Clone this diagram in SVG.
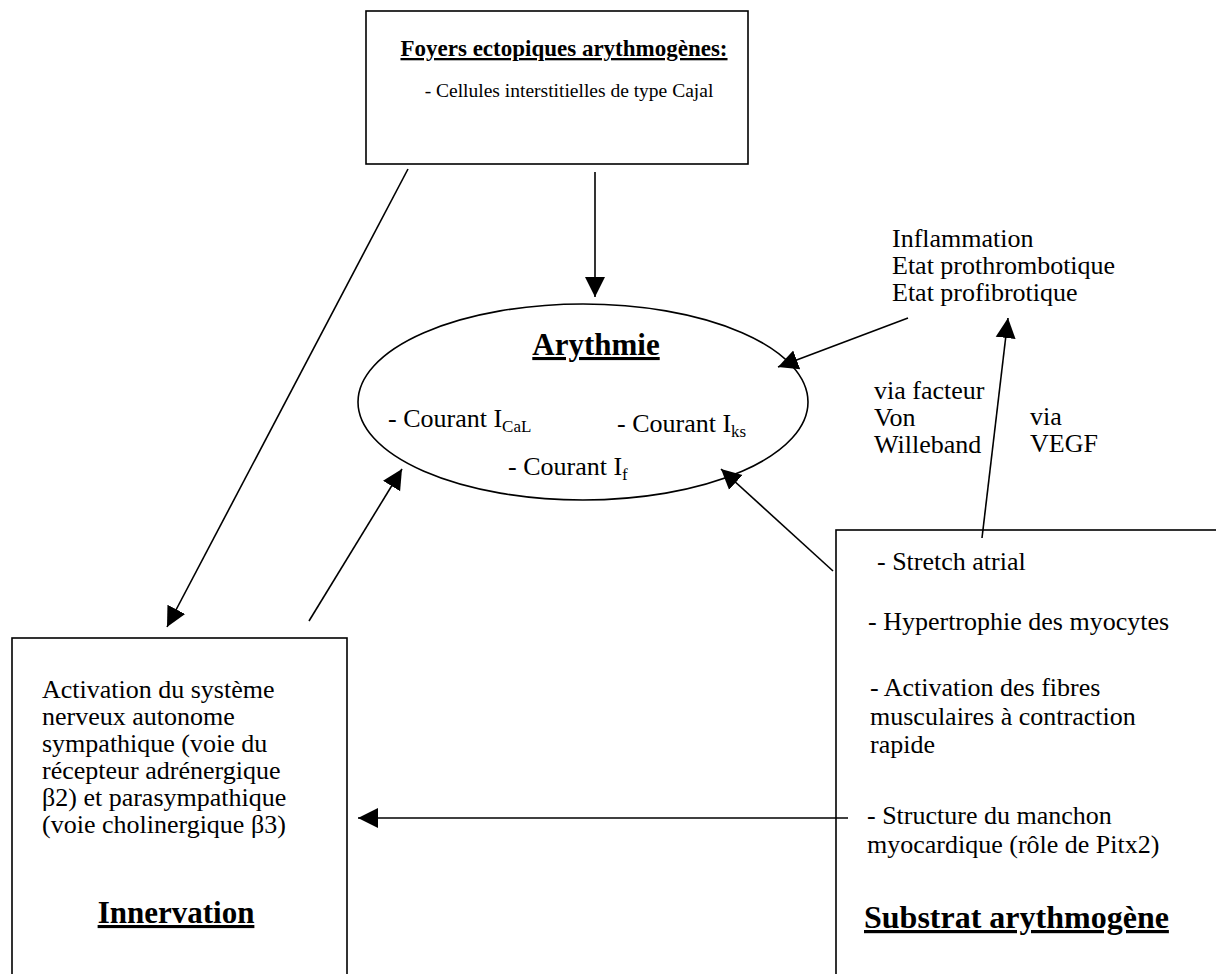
<svg xmlns="http://www.w3.org/2000/svg" width="1216" height="974" viewBox="0 0 1216 974">
<style>
.box{fill:#fff;stroke:#000;stroke-width:1.6}
.ell{fill:#fff;stroke:#000;stroke-width:1.6}
.t{font-family:"Liberation Serif","Times New Roman",serif;font-size:26px;fill:#000}
.h{font-family:"Liberation Serif","Times New Roman",serif;font-size:31px;font-weight:bold;fill:#000;text-decoration:underline}
.sub{font-size:17px}
.con line{stroke:#000;stroke-width:1.6;marker-end:url(#ah)}
</style>
<defs>
<marker id="ah" markerUnits="userSpaceOnUse" markerWidth="22" markerHeight="22" refX="20" refY="10" orient="auto" viewBox="0 0 22 20">
<path d="M0,0 L20,10 L0,20 z" fill="#000"/>
</marker>
</defs>
<rect width="1216" height="974" fill="#fff"/>
<g id="foyers">
<rect class="box" x="366" y="11" width="382" height="153"/>
<text class="h" x="564" y="56" text-anchor="middle" style="font-size:23px">Foyers ectopiques arythmogènes:</text>
<text class="t" x="569" y="97" text-anchor="middle" style="font-size:19.5px">- Cellules interstitielles de type Cajal</text>
</g>
<g id="arythmie">
<ellipse class="ell" cx="583" cy="402" rx="225" ry="98"/>
<text class="h" x="596" y="355" text-anchor="middle">Arythmie</text>
<text class="t" x="388" y="427">- Courant I<tspan class="sub" dy="5">CaL</tspan></text>
<text class="t" x="617" y="432">- Courant I<tspan class="sub" dy="5">ks</tspan></text>
<text class="t" x="508" y="475">- Courant I<tspan class="sub" dy="5">f</tspan></text>
</g>
<g id="facteurs">
<text class="t" x="892" y="247">Inflammation</text>
<text class="t" x="892" y="274">Etat prothrombotique</text>
<text class="t" x="892" y="301">Etat profibrotique</text>
</g>
<g id="innervation">
<rect class="box" x="12" y="638" width="335" height="350"/>
<text class="t" x="42" y="698">Activation du système</text>
<text class="t" x="42" y="725">nerveux autonome</text>
<text class="t" x="42" y="752">sympathique (voie du</text>
<text class="t" x="42" y="779">récepteur adrénergique</text>
<text class="t" x="42" y="806">β2) et parasympathique</text>
<text class="t" x="42" y="833">(voie cholinergique β3)</text>
<text class="h" x="176" y="923" text-anchor="middle">Innervation</text>
</g>
<g id="substrat">
<rect class="box" x="836" y="530" width="400" height="460"/>
<text class="t" x="877" y="570">- Stretch atrial</text>
<text class="t" x="868" y="630">- Hypertrophie des myocytes</text>
<text class="t" x="870" y="696">- Activation des fibres</text>
<text class="t" x="870" y="725">musculaires à contraction</text>
<text class="t" x="870" y="753">rapide</text>
<text class="t" x="867" y="824">- Structure du manchon</text>
<text class="t" x="867" y="853">myocardique (rôle de Pitx2)</text>
<text class="h" x="864" y="928" style="font-size:32px">Substrat arythmogène</text>
</g>
<g id="labels">
<text class="t" x="874" y="399">via facteur</text>
<text class="t" x="874" y="426">Von</text>
<text class="t" x="874" y="453">Willeband</text>
<text class="t" x="1030" y="425">via</text>
<text class="t" x="1030" y="452">VEGF</text>
</g>
<g class="con" id="connectors">
<line x1="595" y1="172" x2="595" y2="297"/>
<line x1="408" y1="169" x2="167" y2="627"/>
<line x1="309" y1="621" x2="402" y2="469"/>
<line x1="833" y1="571" x2="721" y2="469"/>
<line x1="908" y1="318" x2="778" y2="367"/>
<line x1="982" y1="538" x2="1008" y2="318"/>
<line x1="848" y1="818" x2="358" y2="818"/>
</g>
</svg>
